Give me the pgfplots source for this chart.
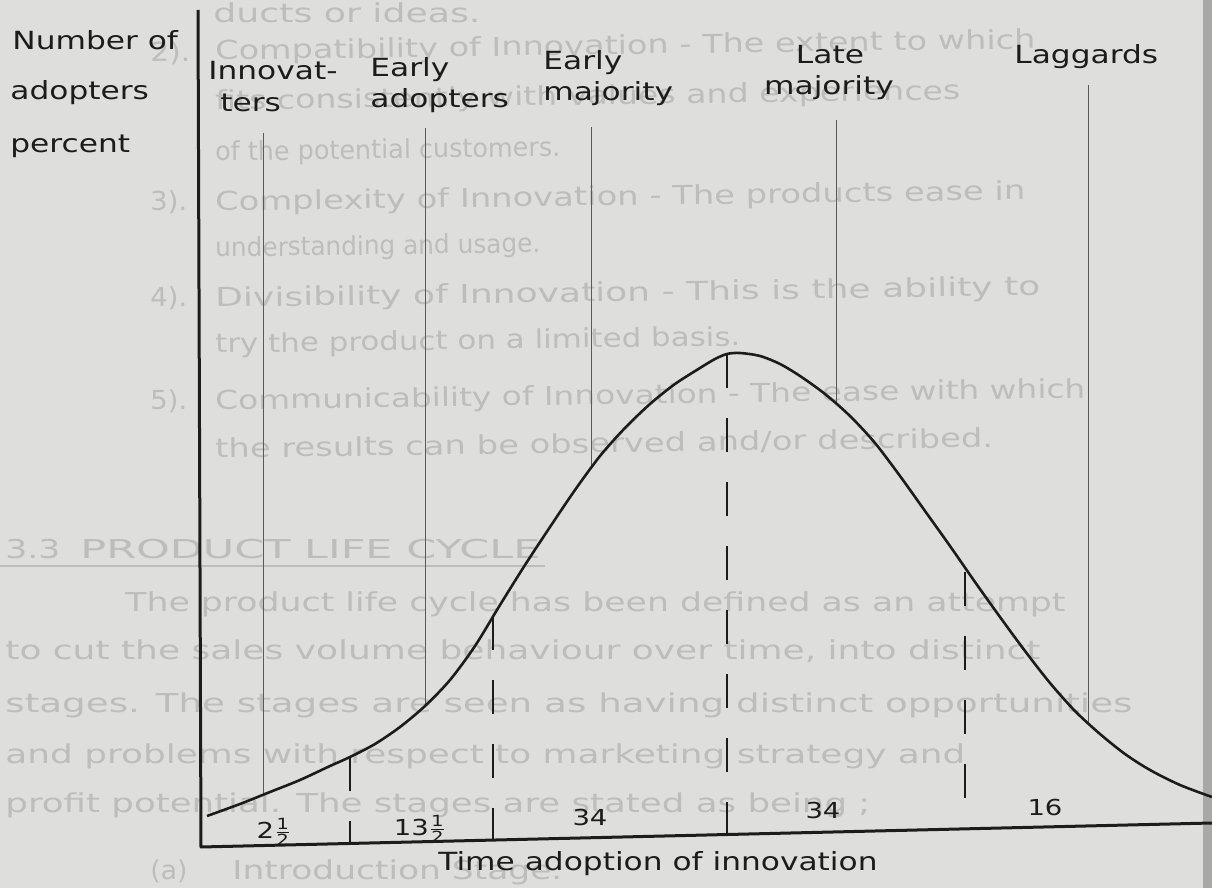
\documentclass[border=0pt]{standalone}
\usepackage{pgfplots}
\pgfplotsset{compat=1.18}
\usepackage{amsmath}
\usepackage{fontspec}
\setmainfont{DejaVu Sans}
\newfontfamily\labfont[FakeStretch=1.25]{DejaVu Sans}
\newfontfamily\bgfont{DejaVu Sans}
\definecolor{paper}{RGB}{222,222,220}
\definecolor{ink}{RGB}{28,28,28}
\definecolor{bleed}{RGB}{189,189,187}
\definecolor{guide}{RGB}{90,90,90}
\definecolor{edge}{RGB}{168,168,166}
\newdimen\px \px=0.5pt
\newcommand\half{$\frac{\text{1}}{\text{2}}$}
\tikzset{
  lab/.style={font=\labfont\fontsize{12.5}{14}\selectfont, text=ink, inner sep=0},
  num/.style={font=\labfont\fontsize{11}{13}\selectfont, text=ink, inner sep=0, anchor=base}}
\newcommand\bgt[4]{\node[anchor=base west,inner sep=0,text=bleed,rotate=0.8] at (axis cs:#1,#2) {\resizebox{#3\px}{\height}{\bgfont\fontsize{13}{15}\selectfont #4}};}
\newcommand\bgl[4]{\node[anchor=base west,inner sep=0,text=bleed] at (axis cs:#1,#2) {\resizebox{#3\px}{\height}{\bgfont\fontsize{13}{15}\selectfont #4}};}
\begin{document}
\begin{tikzpicture}
\begin{axis}[name=ax, x=0.5pt, y=0.5pt, xmin=0, xmax=1212, ymin=0, ymax=888,
  y dir=reverse, hide axis, clip=false]
% paper
\fill[paper] (axis cs:0,0) rectangle (axis cs:1212,888);
\fill[edge] (axis cs:1203,0) rectangle (axis cs:1212,888);
% faint text of the page behind the figure
\bgl{213}{23}{267}{ducts or ideas.}
\bgt{150}{62}{40}{2).}
\bgt{215}{60}{820}{Compatibility of Innovation - The extent to which}
\bgt{215}{110}{745}{fits consistently with values and experiences}
\bgt{215}{161}{345}{of the potential customers.}
\bgt{150}{211}{37}{3).}
\bgt{215}{211}{810}{Complexity of Innovation - The products ease in}
\bgt{215}{257}{325}{understanding and usage.}
\bgt{150}{307}{37}{4).}
\bgt{215}{307}{825}{Divisibility of Innovation - This is the ability to}
\bgt{215}{353}{525}{try the product on a limited basis.}
\bgt{150}{410}{37}{5).}
\bgt{215}{410}{870}{Communicability of Innovation - The ease with which}
\bgt{215}{458}{778}{the results can be observed and/or described.}
\bgl{5}{558}{55}{3.3}
\bgl{80}{558}{460}{PRODUCT LIFE CYCLE}
\draw[bleed, line width=1.2pt] (axis cs:0,566) -- (axis cs:545,566);
\bgl{125}{611}{940}{The product life cycle has been defined as an attempt}
\bgl{5}{659}{1035}{to cut the sales volume behaviour over time, into distinct}
\bgl{5}{712}{1127}{stages. The stages are seen as having distinct opportunities}
\bgl{5}{763}{960}{and problems with respect to marketing strategy and}
\bgl{5}{812}{865}{profit potential. The stages are stated as being ;}
\bgl{150}{879}{37}{(a)}
\bgl{232}{879}{330}{Introduction Stage.}
% thin guide lines from the category names
\addplot[guide, line width=0.5pt] coordinates {(263,133) (263,795)};
\addplot[guide, line width=0.5pt] coordinates {(425,128) (425,706)};
\addplot[guide, line width=0.5pt] coordinates {(591,127) (591,468)};
\addplot[guide, line width=0.5pt] coordinates {(836,120) (836,404)};
\addplot[guide, line width=0.5pt] coordinates {(1088,85) (1088,722)};
% dashed category boundaries
\addplot[ink, line width=1.3pt, dash pattern=on 17pt off 15pt] coordinates {(350,757) (350,843)};
\addplot[ink, line width=1.3pt, dash pattern=on 17pt off 15pt] coordinates {(493,616) (493,840)};
\addplot[ink, line width=1.3pt, dash pattern=on 17pt off 15pt] coordinates {(727,354) (727,834)};
\addplot[ink, line width=1.3pt, dash pattern=on 17pt off 15pt] coordinates {(965,572) (965,829)};
% adoption curve
\addplot[ink, line width=1.3pt, smooth, tension=0.5] coordinates {
 (207,816) (240,804) (270,792) (300,780) (330,766) (350,757) (375,744)
 (400,727) (425,706) (450,680) (475,646) (500,605) (525,565) (550,527)
 (575,490) (600,456) (625,428) (650,404) (675,384) (700,368) (715,359)
 (727,354) (740,353) (760,356) (780,364) (800,376) (825,394) (850,416)
 (875,443) (900,476) (925,511) (950,546) (975,582) (1000,617) (1025,651)
 (1050,683) (1075,711) (1100,734) (1125,754) (1150,770) (1180,785) (1212,797)};
% axes
\addplot[ink, line width=1.5pt, line join=round] coordinates {(198,10) (201,847) (1212,823)};
% labels
\node[lab, anchor=base west] at (axis cs:12,50) {Number of};
\node[lab, anchor=base west] at (axis cs:10,100) {adopters};
\node[lab, anchor=base west] at (axis cs:10,153) {percent};
\node[lab, anchor=base west] at (axis cs:208,80) {Innovat-};
\node[lab, anchor=base west] at (axis cs:220,112) {ters};
\node[lab, anchor=base west] at (axis cs:370,77) {Early};
\node[lab, anchor=base west] at (axis cs:370,108) {adopters};
\node[lab, anchor=base west] at (axis cs:543,70) {Early};
\node[lab, anchor=base west] at (axis cs:543,101) {majority};
\node[lab, anchor=base] at (axis cs:830,64) {Late};
\node[lab, anchor=base] at (axis cs:829,95) {majority};
\node[lab, anchor=base west] at (axis cs:1014,64) {Laggards};
\node[num] at (axis cs:274,838) {2\half};
\node[num] at (axis cs:420,835) {13\half};
\node[num] at (axis cs:590,825) {34};
\node[num] at (axis cs:823,818) {34};
\node[num] at (axis cs:1045,815) {16};
\node[lab, anchor=base west] at (axis cs:438,870) {Time adoption of innovation};
\end{axis}
\pgfresetboundingbox
\path[use as bounding box] (ax.south west) rectangle (ax.north east);
\end{tikzpicture}
\end{document}
